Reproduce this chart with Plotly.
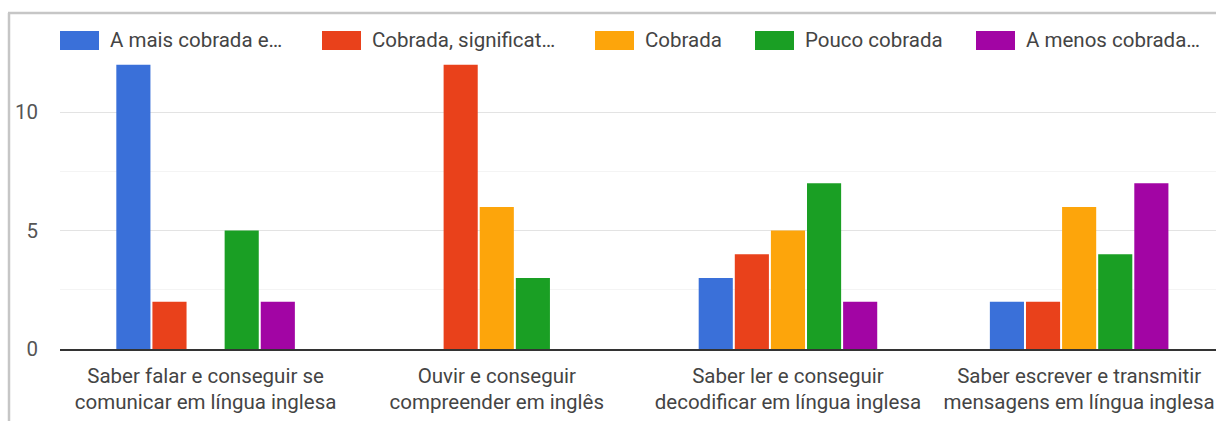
import plotly.graph_objects as go

# ---- data ----
categories = [
    "Saber falar e conseguir se<br>comunicar em língua inglesa",
    "Ouvir e conseguir<br>compreender em inglês",
    "Saber ler e conseguir<br>decodificar em língua inglesa",
    "Saber escrever e transmitir<br>mensagens em língua inglesa",
]
series_names = [
    "A mais cobrada e…",
    "Cobrada, significat…",
    "Cobrada",
    "Pouco cobrada",
    "A menos cobrada…",
]
mais_cobrada = [12, 0, 3, 2]
cobrada_signif = [2, 12, 4, 2]
cobrada = [0, 6, 5, 6]
pouco_cobrada = [5, 3, 7, 4]
menos_cobrada = [2, 0, 2, 7]
y_ticks = [0, 5, 10]

series_values = [mais_cobrada, cobrada_signif, cobrada, pouco_cobrada, menos_cobrada]
colors = ["#3a70d9", "#e9411b", "#fda50b", "#1a9f24", "#a205a4"]

FONT = "Roboto"
FS = 20.5
W, H = 1216, 421
PL, PR, PT, PB = 60, 1216, 53, 349


def px_x(x):
    return (x - PL) / (PR - PL)


def px_y(y):
    return (PB - y) / (PB - PT)


xpos = list(range(len(categories)))

fig = go.Figure()
for name, vals, col in zip(series_names, series_values, colors):
    fig.add_trace(go.Bar(
        x=xpos, y=vals, name=name,
        marker=dict(color=col, line=dict(width=0)),
        showlegend=False, hoverinfo="skip",
    ))

shapes = [
    # frame top & left
    dict(type="line", xref="paper", yref="paper",
         x0=px_x(8), x1=px_x(1216), y0=px_y(13), y1=px_y(13),
         line=dict(color="#c6c6c6", width=2.5)),
    dict(type="line", xref="paper", yref="paper",
         x0=px_x(9), x1=px_x(9), y0=px_y(13), y1=px_y(421),
         line=dict(color="#c6c6c6", width=2.5)),
]
annotations = []
legend_x = [60, 322, 595, 755, 976]
for lx, name, col in zip(legend_x, series_names, colors):
    shapes.append(dict(type="rect", xref="paper", yref="paper",
                       x0=px_x(lx), x1=px_x(lx + 39), y0=px_y(50), y1=px_y(31),
                       fillcolor=col, line=dict(width=0)))
    annotations.append(dict(xref="paper", yref="paper", x=px_x(lx + 48), y=px_y(40.5),
                            text=name, showarrow=False, xanchor="left", yanchor="middle",
                            font=dict(family=FONT, size=FS, color="#444444")))

fig.update_layout(
    width=W, height=H,
    margin=dict(l=PL, r=W - PR, t=PT, b=H - PB, pad=0),
    paper_bgcolor="white", plot_bgcolor="white",
    barmode="group", bargap=0.38, bargroupgap=0.055,
    font=dict(family=FONT, size=FS, color="#444444"),
    shapes=shapes, annotations=annotations,
    xaxis=dict(
        tickvals=xpos, ticktext=categories, range=[-0.5, 3.47],
        showgrid=False, zeroline=False, showline=True, linecolor="#333333", linewidth=2,
        ticks="", ticklabelstandoff=7,
        tickfont=dict(family=FONT, size=FS, color="#444444"),
        fixedrange=True,
    ),
    yaxis=dict(
        range=[0, 12.5], tickvals=y_ticks, showgrid=True, gridcolor="#e3e3e3", gridwidth=1,
        minor=dict(dtick=2.5, tick0=0, showgrid=True, gridcolor="#f4f4f4", gridwidth=1),
        zeroline=False, showline=False, ticks="", ticklabelstandoff=21,
        tickfont=dict(family=FONT, size=FS, color="#555555"),
        fixedrange=True,
    ),
)

fig.write_html("out.html", config={"displayModeBar": False})
